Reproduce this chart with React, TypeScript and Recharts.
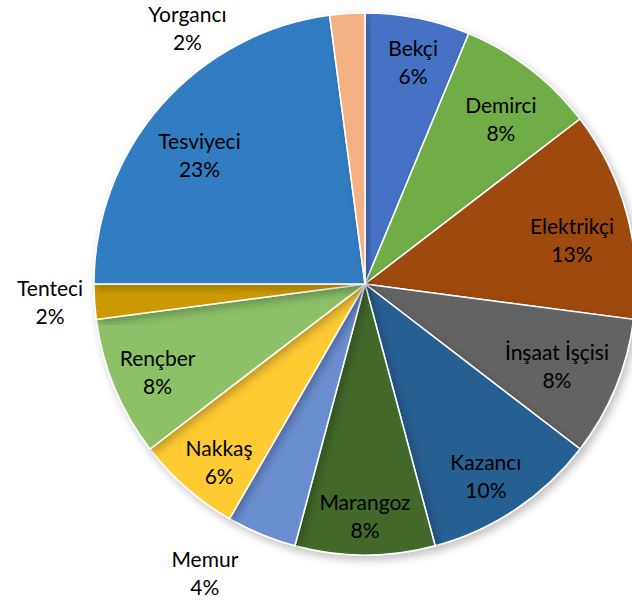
import { PieChart, Pie, Cell } from "recharts";

const NAMES = [
  "Bekçi", "Demirci", "Elektrikçi", "İnşaat İşçisi", "Kazancı", "Marangoz",
  "Memur", "Nakkaş", "Rençber", "Tenteci", "Tesviyeci", "Yorgancı",
];
const COUNTS = [3, 4, 6, 4, 5, 4, 2, 3, 4, 1, 11, 1];
const PCT_LABELS = ["6%", "8%", "13%", "8%", "10%", "8%", "4%", "6%", "8%", "2%", "23%", "2%"];

const COLORS = [
  "#4472C4", "#70AD47", "#9E480E", "#636363", "#255E91", "#43682B",
  "#698ED0", "#FFCA33", "#8CC168", "#CC9A00", "#327DC2", "#F4B183",
];

// where Excel's best-fit put each label: angle (deg clockwise from top), radius factor
const LABEL_POS: Record<string, { a: number; f: number }> = {
  "Bekçi": { a: 12.2, f: 0.84 },
  "Demirci": { a: 39.4, f: 0.79 },
  "Elektrikçi": { a: 77.9, f: 0.781 },
  "İnşaat İşçisi": { a: 113.1, f: 0.77 },
  "Kazancı": { a: 147.8, f: 0.837 },
  "Marangoz": { a: 180, f: 0.856 },
  "Memur": { a: 209.0, f: 1.219 },
  "Nakkaş": { a: 219.4, f: 0.848 },
  "Rençber": { a: 246.9, f: 0.832 },
  "Tenteci": { a: 266.7, f: 1.164 },
  "Tesviyeci": { a: 307.9, f: 0.774 },
  "Yorgancı": { a: 325.3, f: 1.151 },
};

const data = NAMES.map((name, i) => ({ name, value: COUNTS[i], pct: PCT_LABELS[i] }));

const FONT = "Lato, 'Open Sans', sans-serif";

function renderLabel(props: any) {
  const { cx, cy, midAngle, outerRadius, index } = props;
  const d = data[index];
  const pos = LABEL_POS[d.name] ?? { a: 90 - midAngle, f: 0.8 };
  const rad = (pos.a * Math.PI) / 180;
  const x = cx + Math.sin(rad) * outerRadius * pos.f;
  const y = cy - Math.cos(rad) * outerRadius * pos.f;
  return (
    <text x={x} y={y} textAnchor="middle" fill="#000" style={{ fontFamily: FONT, fontSize: 21 }}>
      <tspan x={x} dy={-6}>{d.name}</tspan>
      <tspan x={x} dy={28}>{d.pct}</tspan>
    </text>
  );
}

export default function App() {
  return (
    <div style={{ position: "absolute", left: 0, top: 0, width: 632, height: 603, background: "#fff" }}>
      <PieChart width={632} height={603} margin={{ top: 0, right: 0, bottom: 0, left: 0 }}>
        <defs>
          <filter id="pieShadow" x="-10%" y="-10%" width="125%" height="125%">
            <feDropShadow dx="3" dy="4" stdDeviation="4" floodColor="#000" floodOpacity="0.25" />
          </filter>
        </defs>
        <Pie
          data={data}
          dataKey="value"
          nameKey="name"
          cx={365}
          cy={284}
          outerRadius={271}
          startAngle={90}
          endAngle={-270}
          stroke="#fff"
          strokeWidth={1.5}
          labelLine={false}
          label={renderLabel}
          isAnimationActive={false}
          style={{ filter: "url(#pieShadow)" }}
        >
          {data.map((d, i) => (
            <Cell key={d.name} fill={COLORS[i]} />
          ))}
        </Pie>
      </PieChart>
    </div>
  );
}
